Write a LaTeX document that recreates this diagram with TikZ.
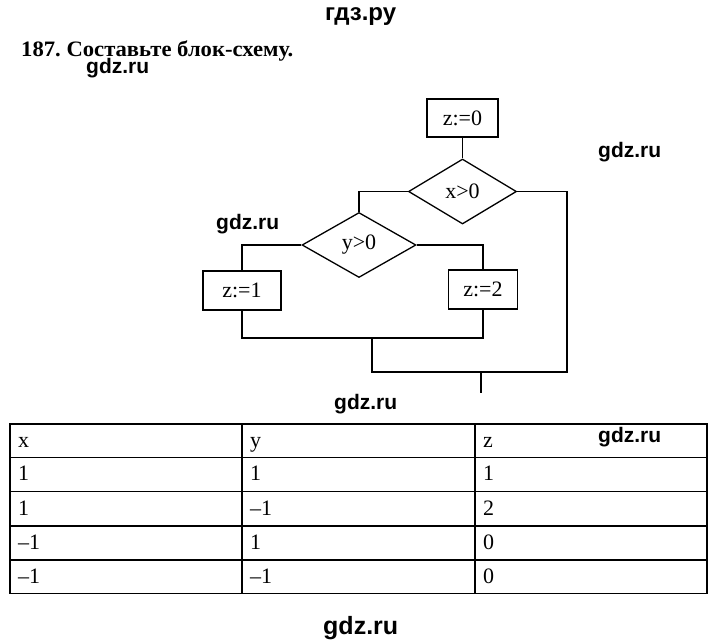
\documentclass[tikz,border=0pt]{standalone}
\usepackage{fontspec}
\setmainfont{Liberation Serif}
\newfontfamily\wmfont{Liberation Sans}
\newfontfamily\titlefont{Liberation Serif}[FakeStretch=1.03]
\usetikzlibrary{shapes.geometric}
\frenchspacing
\tikzset{
  flow/.style={line width=1.3pt},
  procbox/.style={draw, line width=1.3pt, inner sep=0pt, font=\fontsize{22}{26}\selectfont},
  decision/.style={draw, diamond, line width=1.3pt, inner sep=0pt, aspect=1.66, font=\fontsize{22}{26}\selectfont},
  wm/.style={font=\wmfont\bfseries\fontsize{21}{25}\selectfont, inner sep=0pt, anchor=base west},
  cell/.style={font=\fontsize{22}{26}\selectfont, inner sep=0pt, anchor=base west},
  grid/.style={line width=1.6pt}
}
\begin{document}
\begin{tikzpicture}[x=1pt,y=-1pt]
\useasboundingbox (0,0) rectangle (720,641);
% header texts
\node[wm, font=\wmfont\bfseries\fontsize{24}{28}\selectfont] (hdr) at (325,20) {гдз.ру};
\node[font=\titlefont\frenchspacing\bfseries\fontsize{22}{26}\selectfont, inner sep=0pt, text depth=0pt, anchor=base west] (title) at (21,56.5) {187. Составьте блок-схему.};
\node[wm] (w1) at (86,73.5) {gdz.ru};
\node[wm] (w2) at (598,157) {gdz.ru};
\node[wm] (w3) at (216,229) {gdz.ru};
\node[wm] (w4) at (334,409) {gdz.ru};
\node[wm] (w5) at (598,442) {gdz.ru};
\node[wm, font=\wmfont\bfseries\fontsize{25}{30}\selectfont] (w6) at (323,634) {gdz.ru};
% flowchart
\node[procbox, minimum width=71pt, minimum height=38pt] (z0) at (462.5,118) {z:=0};
\node[decision, minimum width=108pt, minimum height=65pt] (dx) at (462.5,191.5) {x>0};
\node[decision, minimum width=114pt, minimum height=65pt] (dy) at (359,245) {y>0};
\node[procbox, minimum width=78pt, minimum height=39pt] (z1) at (242,290.5) {z:=1};
\node[procbox, minimum width=69pt, minimum height=39pt] (z2) at (483,289.5) {z:=2};
\coordinate (j1) at (372,338);
\coordinate (r) at (567,372);
\coordinate (e1) at (481,372);
\coordinate (e2) at (481,393);
\draw[flow] (z0.south) -- (dx.north);
\draw[flow] (dx.west) -| (dy.north);
\draw[flow] (dy.west) -| (z1.north);
\draw[flow] (dy.east) -| (z2.north);
\draw[flow] (z1.south) -- (z1.south |- j1) -- (z2.south |- j1) -- (z2.south);
\draw[flow] (dx.east) -| (r) -- (j1 |- r) -- (j1);
\draw[flow] (e1) -- (e2);
% table
\draw[grid] (10,424) rectangle (707,593.5);
\foreach \yy in {457.5,491.5,526,560} \draw[grid] (10,\yy) -- (707,\yy);
\foreach \xx in {242,475} \draw[grid] (\xx,424) -- (\xx,593.5);
\node[cell] (c11) at (18,447) {x};
\node[cell] (c12) at (250,447) {y};
\node[cell] (c13) at (483,447) {z};
\node[cell] (c21) at (18,480.5) {1};
\node[cell] (c22) at (250,480.5) {1};
\node[cell] (c23) at (483,480.5) {1};
\node[cell] (c31) at (18,515) {1};
\node[cell] (c32) at (250,515) {–1};
\node[cell] (c33) at (483,515) {2};
\node[cell] (c41) at (18,549.5) {–1};
\node[cell] (c42) at (250,549.5) {1};
\node[cell] (c43) at (483,549.5) {0};
\node[cell] (c51) at (18,583.5) {–1};
\node[cell] (c52) at (250,583.5) {–1};
\node[cell] (c53) at (483,583.5) {0};
\end{tikzpicture}
\end{document}
